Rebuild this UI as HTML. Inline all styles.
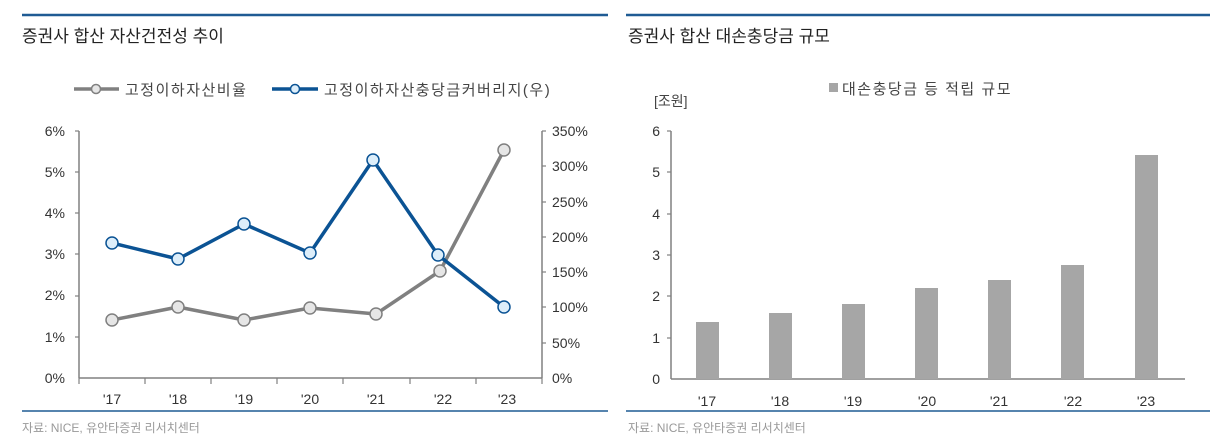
<!DOCTYPE html>
<html><head><meta charset="utf-8"><style>
body{margin:0;background:#fff;}
svg{display:block;font-family:"Liberation Sans","Noto Sans CJK KR",sans-serif;}
</style></head><body>
<svg width="1229" height="447" viewBox="0 0 1229 447">
<g stroke="#1f5b94" stroke-width="2.5">
<line x1="22" y1="15" x2="608" y2="15"/><line x1="626" y1="15" x2="1210" y2="15"/>
</g>
<g stroke="#1f5b94" stroke-width="1.5">
<line x1="22" y1="411" x2="608" y2="411"/><line x1="626" y1="411" x2="1210" y2="411"/>
</g>
<text x="22" y="42" font-size="17" fill="#222">증권사 합산 자산건전성 추이</text>
<text x="628" y="42" font-size="17" fill="#222">증권사 합산 대손충당금 규모</text>
<text x="22" y="432" font-size="12" fill="#999">자료: NICE, 유안타증권 리서치센터</text>
<text x="628" y="432" font-size="12" fill="#999">자료: NICE, 유안타증권 리서치센터</text>

<!-- left legend -->
<line x1="74" y1="89" x2="119" y2="89" stroke="#808080" stroke-width="3.5"/>
<circle cx="96" cy="89" r="4.5" fill="#e6e6e6" stroke="#808080" stroke-width="1.5"/>
<text x="125" y="95" font-size="15" fill="#444" letter-spacing="1.5">고정이하자산비율</text>
<line x1="272" y1="89" x2="318" y2="89" stroke="#0b5394" stroke-width="3.5"/>
<circle cx="295" cy="89" r="4.5" fill="#ddeefa" stroke="#0b5394" stroke-width="1.5"/>
<text x="324" y="95" font-size="15" fill="#444" letter-spacing="1.5">고정이하자산충당금커버리지(우)</text>

<!-- left axes -->
<g stroke="#808080" stroke-width="1.5" fill="none">
<line x1="79" y1="131" x2="79" y2="378"/>
<line x1="79" y1="378" x2="542" y2="378"/>
<line x1="542" y1="131" x2="542" y2="378"/>
</g>
<g stroke="#808080" stroke-width="1.2">
<line x1="75" y1="131" x2="79" y2="131"/><line x1="75" y1="172" x2="79" y2="172"/><line x1="75" y1="213" x2="79" y2="213"/><line x1="75" y1="254" x2="79" y2="254"/><line x1="75" y1="296" x2="79" y2="296"/><line x1="75" y1="337" x2="79" y2="337"/>
<line x1="542" y1="131" x2="546" y2="131"/><line x1="542" y1="166" x2="546" y2="166"/><line x1="542" y1="202" x2="546" y2="202"/><line x1="542" y1="237" x2="546" y2="237"/><line x1="542" y1="272" x2="546" y2="272"/><line x1="542" y1="307" x2="546" y2="307"/><line x1="542" y1="343" x2="546" y2="343"/>
<line x1="79" y1="378" x2="79" y2="384"/><line x1="145" y1="378" x2="145" y2="384"/><line x1="211" y1="378" x2="211" y2="384"/><line x1="277" y1="378" x2="277" y2="384"/><line x1="343" y1="378" x2="343" y2="384"/><line x1="410" y1="378" x2="410" y2="384"/><line x1="476" y1="378" x2="476" y2="384"/><line x1="542" y1="378" x2="542" y2="384"/>
</g>
<g font-size="14" fill="#333" text-anchor="end">
<text x="65" y="136">6%</text><text x="65" y="177">5%</text><text x="65" y="218">4%</text><text x="65" y="259">3%</text><text x="65" y="300">2%</text><text x="65" y="342">1%</text><text x="65" y="383">0%</text>
</g>
<g font-size="14" fill="#333">
<text x="552" y="136">350%</text><text x="552" y="171">300%</text><text x="552" y="207">250%</text><text x="552" y="242">200%</text><text x="552" y="277">150%</text><text x="552" y="312">100%</text><text x="552" y="348">50%</text><text x="552" y="383">0%</text>
</g>
<g font-size="14" fill="#333" text-anchor="middle">
<text x="112" y="404">'17</text><text x="178" y="404">'18</text><text x="244" y="404">'19</text><text x="310" y="404">'20</text><text x="376" y="404">'21</text><text x="443" y="404">'22</text><text x="507" y="404">'23</text>
</g>
<polyline points="112,320 178,307 244,320 310,308 376,314 440,271 504,150" fill="none" stroke="#808080" stroke-width="3.5" stroke-linejoin="round"/>
<polyline points="112,243 178,259 244,224 310,253 373,160 438,255 504,307" fill="none" stroke="#0b5394" stroke-width="3.5" stroke-linejoin="round"/>
<g fill="#e6e6e6" stroke="#808080" stroke-width="1.5">
<circle cx="112" cy="320" r="6"/><circle cx="178" cy="307" r="6"/><circle cx="244" cy="320" r="6"/><circle cx="310" cy="308" r="6"/><circle cx="376" cy="314" r="6"/><circle cx="440" cy="271" r="6"/><circle cx="504" cy="150" r="6"/>
</g>
<g fill="#ddeefa" stroke="#0b5394" stroke-width="1.5">
<circle cx="112" cy="243" r="6"/><circle cx="178" cy="259" r="6"/><circle cx="244" cy="224" r="6"/><circle cx="310" cy="253" r="6"/><circle cx="373" cy="160" r="6"/><circle cx="438" cy="255" r="6"/><circle cx="504" cy="307" r="6"/>
</g>

<!-- right chart -->
<rect x="829" y="83" width="9" height="9" fill="#a6a6a6"/>
<text x="842" y="94" font-size="15" fill="#444" letter-spacing="1.5">대손충당금 등 적립 규모</text>
<text x="654" y="106" font-size="14" fill="#444">[조원]</text>
<g stroke="#808080" stroke-width="1.5">
<line x1="671" y1="131" x2="671" y2="379"/><line x1="671" y1="379" x2="1185" y2="379"/>
</g>
<g stroke="#808080" stroke-width="1.2">
<line x1="667" y1="131" x2="671" y2="131"/><line x1="667" y1="172" x2="671" y2="172"/><line x1="667" y1="214" x2="671" y2="214"/><line x1="667" y1="255" x2="671" y2="255"/><line x1="667" y1="296" x2="671" y2="296"/><line x1="667" y1="338" x2="671" y2="338"/>
</g>
<g font-size="14" fill="#333" text-anchor="end">
<text x="660" y="136">6</text><text x="660" y="177">5</text><text x="660" y="219">4</text><text x="660" y="260">3</text><text x="660" y="301">2</text><text x="660" y="343">1</text><text x="660" y="384">0</text>
</g>
<g fill="#a6a6a6">
<rect x="696" y="322" width="23" height="57"/><rect x="769" y="313" width="23" height="66"/><rect x="842" y="304" width="23" height="75"/><rect x="915" y="288" width="23" height="91"/><rect x="988" y="280" width="23" height="99"/><rect x="1061" y="265" width="23" height="114"/><rect x="1135" y="155" width="23" height="224"/>
</g>
<g font-size="14" fill="#333" text-anchor="middle">
<text x="707" y="406">'17</text><text x="780" y="406">'18</text><text x="853" y="406">'19</text><text x="927" y="406">'20</text><text x="999" y="406">'21</text><text x="1073" y="406">'22</text><text x="1146" y="406">'23</text>
</g>
</svg>
</body></html>
